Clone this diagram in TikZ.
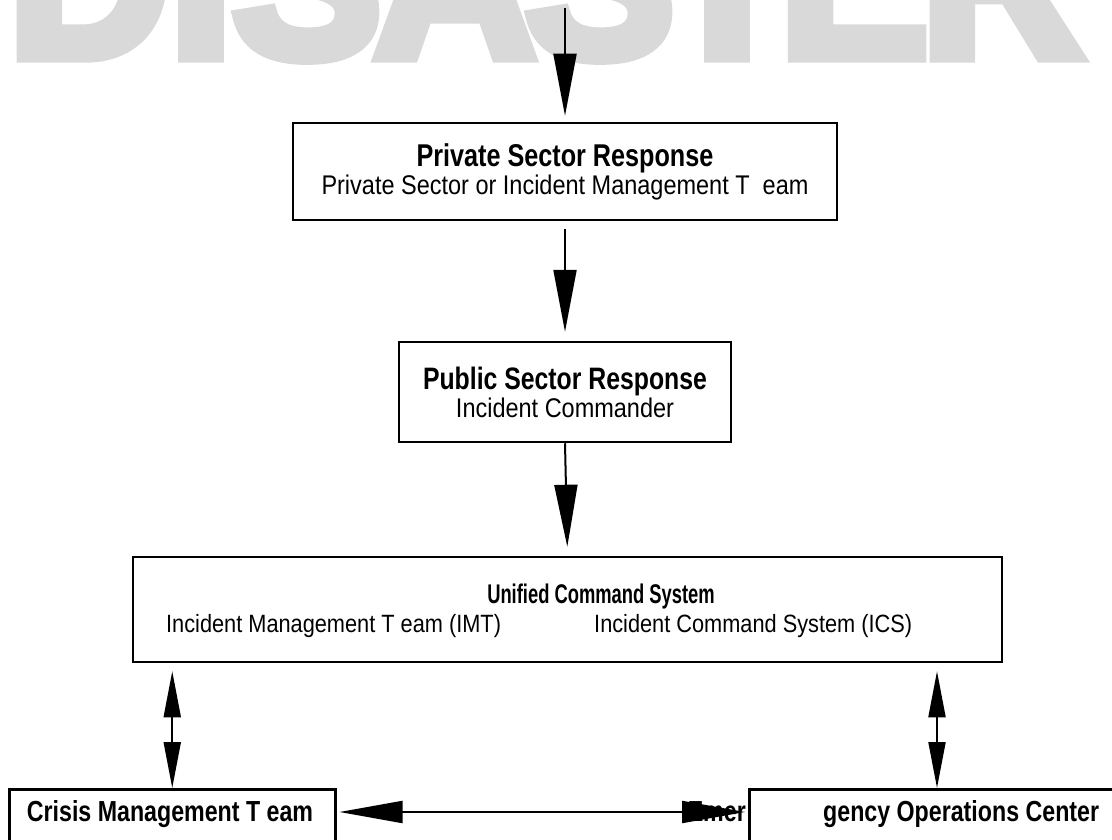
\documentclass[tikz,border=0pt]{standalone}
\usepackage{fontspec}
\setmainfont{Liberation Sans}[FakeStretch=0.87]
\newfontfamily\negrita{Liberation Sans}[FakeStretch=0.8]
\newfontfamily\estrecha{Liberation Sans}[FakeStretch=0.68]
\newfontfamily\letrero{Liberation Sans}[FakeBold=6]
\usepackage{xcolor}
\usepackage{tikz}
\usetikzlibrary{positioning,arrows.meta,calc}
\definecolor{grisclaro}{HTML}{D9D9D9}

\begin{document}
\begin{tikzpicture}[x=1pt, y=-1pt, font=\fontsize{27}{28}\selectfont,
  caja/.style={draw, line width=2.5pt, inner sep=0pt, align=center},
  flecha/.style={line width=2pt, -{Triangle[length=62pt,width=23pt]}},
  doble/.style={line width=2pt, {Triangle[length=46pt,width=17pt]}-{Triangle[length=46pt,width=17pt]}},
  dobleh/.style={line width=2pt, {Triangle[length=63pt,width=22pt]}-{Triangle[length=63pt,width=22pt]}},
  titulo/.style={font=\negrita\bfseries\fontsize{29}{30}\selectfont, inner sep=0pt},
  subtitulo/.style={font=\estrecha\bfseries\fontsize{27}{28}\selectfont, inner sep=0pt},
  texto/.style={font=\fontsize{25}{26}\selectfont, inner sep=0pt}]
  % marco de la pagina
  \useasboundingbox (0,0) rectangle (1112,840);
  \clip (0,0) rectangle (1112,840);
  % letrero gris, cortado arriba
  \foreach \letra/\x in {D/89,I/201,S/307,A/455,S/600,T/727,E/854,R/1002}{
    \node[text=grisclaro, inner sep=0pt, anchor=base, font=\letrero\bfseries\fontsize{223}{223}\selectfont] (l\x) at (\x,56) {\letra};
  }
  % cajas de la cadena de mando
  \node[caja, minimum width=544pt, minimum height=97pt] (privado) at (565,171.5)
    {{\negrita\bfseries\fontsize{31.5}{30}\selectfont Private Sector Response}\\Private Sector or Incident Management T~~eam};
  \node[caja, minimum width=332pt, minimum height=100pt] (publico) at (565,392)
    {{\negrita\bfseries\fontsize{31}{30}\selectfont Public Sector Response}\\Incident Commander};
  \node[caja, minimum width=869pt, minimum height=105pt] (unificado) at (567.5,609.5) {};
  \node[subtitulo, anchor=base] (unititulo) at (601,603) {Unified Command System};
  \node[texto, anchor=base west] (imt) at (166,632) {Incident Management T eam (IMT)};
  \node[texto, anchor=base west] (ics) at (594,632) {Incident Command System (ICS)};
  % cajas de abajo, cortadas por el borde
  \node[caja, anchor=north west, minimum width=326pt, minimum height=100pt] (crisis) at (8,788) {};
  \node[titulo, anchor=base] (crisistexto) at (170,821) {Crisis Management T eam};
  \node[caja, anchor=north west, minimum width=420pt, minimum height=100pt] (eoc) at (748,788) {};
  \node[titulo, anchor=base west] (eoctexto) at (823,821) {gency Operations Center};
  \node[titulo, anchor=base east] (emer) at (746,821) {Emer};
  % flechas
  \coordinate (arriba) at (565,8);
  \coordinate (medio) at (540,812);
  \coordinate (pie) at ($(eoc.north west)+(189,0)$);
  \draw[flecha, shorten >=6pt] (arriba) -- (privado.north);
  \draw[flecha, shorten <=8pt, shorten >=9pt] (privado.south) -- (publico.north);
  \draw[flecha, shorten >=9pt] (publico.south) -- (unificado.north);
  \draw[doble, shorten <=8pt] (crisis.north |- unificado.south) -- (crisis.north);
  \draw[doble, shorten <=8pt] (pie |- unificado.south) -- (pie);
  \draw[dobleh, shorten <=3pt, shorten >=3pt] (crisis.east |- medio) -- (eoc.west |- medio);
\end{tikzpicture}
\end{document}
